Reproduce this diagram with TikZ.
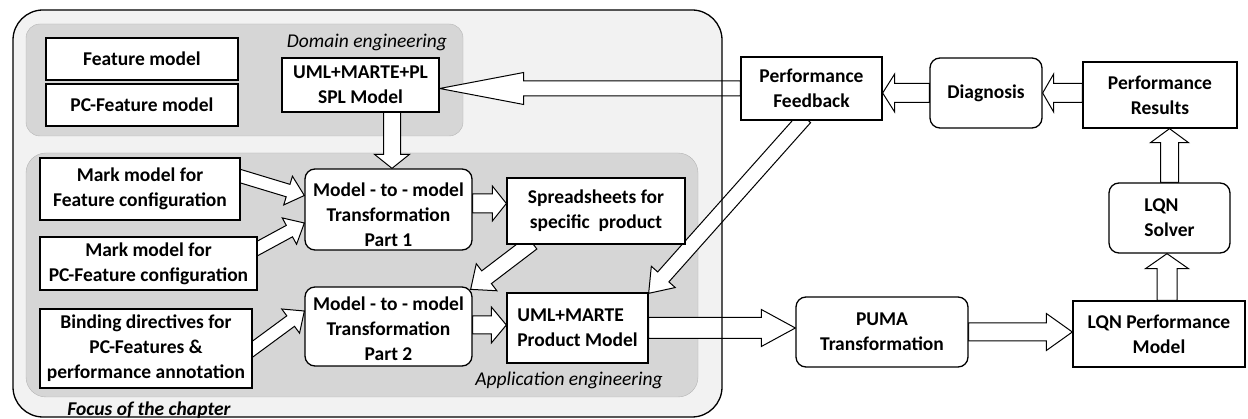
\documentclass[tikz,border=0pt]{standalone}
\usepackage{fontspec}
\setmainfont{Carlito}
\usetikzlibrary{calc}
\pgfdeclarelayer{bg}
\pgfdeclarelayer{arr}
\pgfsetlayers{bg,arr,main}
\definecolor{outerfill}{HTML}{F2F2F2}
\definecolor{innerfill}{HTML}{D6D6D6}
\definecolor{innerline}{HTML}{B5B5B5}
\tikzset{
  box/.style={draw, line width=1.3pt, fill=white, align=center, inner sep=2pt,
    font=\bfseries\fontsize{19.5}{25}\selectfont},
  rbox/.style={box, rounded corners=10pt},
  blockarrow/.style={draw, fill=white, line width=1pt, line join=miter},
  lbl/.style={font=\itshape\fontsize{19.5}{24}\selectfont, inner sep=0pt},
  frame/.style={line width=1.3pt, rounded corners=30pt}
}
% start, tip, shaft half width, head half width, head length
\newcommand\barrow[5]{%
  \begin{pgfonlayer}{arr}
  \draw[blockarrow] ($(#1)!#3pt!90:(#2)$)
   -- ($(#2)!#5pt!(#1)!#3pt!-90:(#1)$)
   -- ($(#2)!#5pt!(#1)!#4pt!-90:(#1)$)
   -- (#2)
   -- ($(#2)!#5pt!(#1)!#4pt!90:(#1)$)
   -- ($(#2)!#5pt!(#1)!#3pt!90:(#1)$)
   -- ($(#1)!#3pt!-90:(#2)$) -- cycle;
  \end{pgfonlayer}}
\begin{document}
\begin{tikzpicture}[x=1pt, y=-1pt]
\useasboundingbox (0,0) rectangle (1248,419);
\begin{pgfonlayer}{bg}
  \fill[white] (0,0) rectangle (1248,419);
  \fill[outerfill, frame] (13,10) rectangle (722,417);
  \draw[innerline, fill=innerfill, rounded corners=14pt] (26,24) rectangle (463,136);
  \draw[innerline, fill=innerfill, rounded corners=20pt] (26,153) rectangle (698,397);
\end{pgfonlayer}
\draw[frame] (13,10) rectangle (722,417);

% labels
\node[lbl] (dlab) at (367,42) {Domain engineering};
\node[lbl] (alab) at (569,380) {Application engineering};
\node[lbl, font=\bfseries\itshape\fontsize{19.5}{24}\selectfont] (flab) at (149,410) {Focus of the chapter};

% nodes
\node[box, minimum width=192pt, minimum height=42pt] (fm) at (142,59) {Feature model};
\node[box, minimum width=192pt, minimum height=42pt] (pcfm) at (142,105) {PC-Feature model};
\node[box, minimum width=157pt, minimum height=54pt] (spl) at (360.5,85) {UML+MARTE+PL\\SPL Model};
\node[box, minimum width=141pt, minimum height=63pt] (fb) at (811.5,88.5) {Performance\\Feedback};
\node[rbox, minimum width=112pt, minimum height=70pt] (diag) at (986,93) {Diagnosis};
\node[box, minimum width=154pt, minimum height=66pt] (res) at (1160,95) {Performance\\Results};
\node[box, minimum width=200pt, minimum height=62pt] (mf) at (140,189) {Mark model for\\Feature configuration};
\node[box, minimum width=217pt, minimum height=53pt] (mpc) at (148.5,263.5) {Mark model for\\PC-Feature configuration};
\node[rbox, minimum width=167pt, minimum height=81pt] (t1) at (388.5,209.5) {\rule{0pt}{25pt}Model - to - model\\Transformation\\Part 1};
\node[box, minimum width=178pt, minimum height=66pt] (ss) at (596,211) {Spreadsheets for\\specific\ \ product};
\node[box, minimum width=212pt, minimum height=79pt] (bd) at (146,348.5) {Binding directives for\\PC-Features \&\\performance annotation};
\node[rbox, minimum width=167pt, minimum height=79pt] (t2) at (388.5,326.5) {\rule{0pt}{18pt}Model - to - model\\Transformation\\Part 2};
\node[box, minimum width=141pt, minimum height=70pt, align=left] (pm) at (577.5,328) {UML+MARTE\\Product Model};
\node[rbox, minimum width=172pt, minimum height=70pt] (puma) at (882,332) {PUMA\\Transformation};
\node[box, minimum width=172pt, minimum height=66pt] (lqn) at (1159,334) {LQN Performance\\Model};
\node[rbox, minimum width=121pt, minimum height=70pt, align=left] (solver) at (1169.5,218) {LQN\\Solver};

% connector end points
\coordinate (a1t) at (fb.east |- diag.west);
\coordinate (a2s) at (res.west |- diag.east);
\coordinate (a3t) at (spl.east |- fb.west);
\coordinate (a4s) at ([xshift=31.5pt, yshift=2pt]spl.south);
\coordinate (a4t) at (a4s |- t1.north);
\coordinate (a5s) at ([xshift=-4pt, yshift=14pt]mf.east);
\coordinate (a5t) at ([yshift=14pt]t1.west);
\coordinate (a6s) at ([xshift=-4pt, yshift=13pt]mpc.east);
\coordinate (a6t) at ([yshift=-13.5pt]t1.west);
\coordinate (a7s) at ([xshift=-4pt, yshift=-3.5pt]bd.east);
\coordinate (a7t) at ([yshift=15.5pt]t2.west);
\coordinate (a8s) at ([yshift=6pt]t1.east);
\coordinate (a8t) at (ss.west |- a8s);
\coordinate (a9s) at ([xshift=-64pt, yshift=2pt]ss.south);
\coordinate (a9t) at ([xshift=-2pt, yshift=-3pt]t2.north east);
\coordinate (a10s) at ([xshift=-6.5pt, yshift=3pt]fb.south);
\coordinate (a10t) at ([yshift=-1pt]pm.north east);
\coordinate (a11s) at ([yshift=1.5pt]t2.east);
\coordinate (a11t) at (pm.west |- a11s);
\coordinate (a12t) at (puma.west |- pm.east);
\coordinate (a13t) at (lqn.west |- puma.east);
\coordinate (a14s) at ([xshift=8pt]lqn.north);
\coordinate (a14t) at (solver.south -| a14s);
\coordinate (a15t) at (res.south -| solver.north);

% block arrows
\barrow{diag.west}{a1t}{9.5}{19}{12}
\barrow{a2s}{diag.east}{9.5}{19}{11}
\barrow{fb.west}{a3t}{7.5}{16}{84}
\barrow{a4s}{a4t}{8.5}{17.5}{14}
\barrow{a5s}{a5t}{6.5}{15}{17}
\barrow{a6s}{a6t}{6.5}{15}{17}
\barrow{a7s}{a7t}{6.5}{15}{17}
\barrow{a8s}{a8t}{9.5}{17.5}{14}
\barrow{a9s}{a9t}{8}{17}{20}
\barrow{a10s}{a10t}{7.5}{16}{22}
\barrow{a11s}{a11t}{9}{18}{15}
\barrow{pm.east}{a12t}{10.5}{18.5}{34}
\barrow{puma.east}{a13t}{9}{18.5}{26}
\barrow{a14s}{a14t}{10}{21.5}{15}
\barrow{solver.north}{a15t}{9}{19}{14}
\end{tikzpicture}
\end{document}
